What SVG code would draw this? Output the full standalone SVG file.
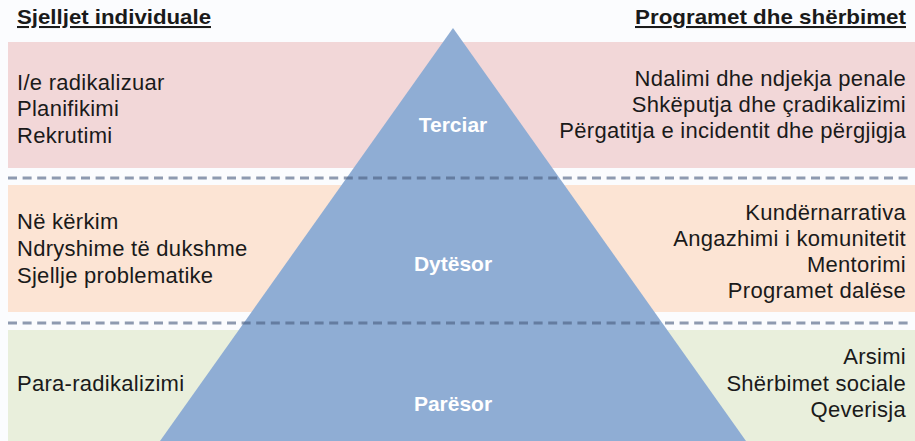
<svg xmlns="http://www.w3.org/2000/svg" width="915" height="441" viewBox="0 0 915 441">
  <style>
    .body { font-family: "Liberation Sans", Arial, sans-serif; font-size: 22px; letter-spacing: 0.28px; fill: #1a1a1a; }
    .hdr { font-family: "Liberation Sans", Arial, sans-serif; font-size: 20.5px; font-weight: bold; fill: #1a1a1a; text-decoration: underline; }
    .tier { font-family: "Liberation Sans", Arial, sans-serif; font-size: 21px; font-weight: bold; fill: #ffffff; text-anchor: middle; }
    .end { text-anchor: end; }
    .sep { stroke: #4a5d80; stroke-opacity: 0.62; stroke-width: 3; stroke-dasharray: 9 5.6; fill: none; }
  </style>
  <rect x="0" y="0" width="915" height="441" fill="#fbfcfe"/>
  <g id="bands">
    <rect id="band-tertiary" x="8" y="42" width="907" height="126" fill="#f2d7d8"/>
    <rect id="band-secondary" x="8" y="185" width="907" height="127" fill="#fce4d4"/>
    <rect id="band-primary" x="8" y="330" width="907" height="111" fill="#e9efdc"/>
  </g>
  <g id="pyramid">
    <polygon points="453,28 746,441 160,441" fill="#8fadd4"/>
  </g>
  <g id="connectors">
    <line class="sep" x1="8" y1="178" x2="912" y2="178"/>
    <line class="sep" x1="8" y1="323" x2="912" y2="323"/>
  </g>
  <g id="headers">
    <text class="hdr" x="17" y="24" textLength="194" lengthAdjust="spacingAndGlyphs">Sjelljet individuale</text>
    <text class="hdr end" x="906" y="24" textLength="271" lengthAdjust="spacingAndGlyphs">Programet dhe shërbimet</text>
  </g>
  <g id="tier-tertiary">
    <text class="tier" x="453" y="132">Terciar</text>
    <text class="body" x="17" y="90">I/e radikalizuar</text>
    <text class="body" x="17" y="116">Planifikimi</text>
    <text class="body" x="17" y="143">Rekrutimi</text>
    <text class="body end" x="906" y="86">Ndalimi dhe ndjekja penale</text>
    <text class="body end" x="906" y="112">Shkëputja dhe çradikalizimi</text>
    <text class="body end" x="906" y="138">Përgatitja e incidentit dhe përgjigja</text>
  </g>
  <g id="tier-secondary">
    <text class="tier" x="453" y="271">Dytësor</text>
    <text class="body" x="17" y="229">Në kërkim</text>
    <text class="body" x="17" y="256">Ndryshime të dukshme</text>
    <text class="body" x="17" y="283">Sjellje problematike</text>
    <text class="body end" x="906" y="220">Kundërnarrativa</text>
    <text class="body end" x="906" y="246">Angazhimi i komunitetit</text>
    <text class="body end" x="906" y="272">Mentorimi</text>
    <text class="body end" x="906" y="298">Programet dalëse</text>
  </g>
  <g id="tier-primary">
    <text class="tier" x="453" y="411">Parësor</text>
    <text class="body" x="17" y="391">Para-radikalizimi</text>
    <text class="body end" x="906" y="364">Arsimi</text>
    <text class="body end" x="906" y="391">Shërbimet sociale</text>
    <text class="body end" x="906" y="417">Qeverisja</text>
  </g>
</svg>
